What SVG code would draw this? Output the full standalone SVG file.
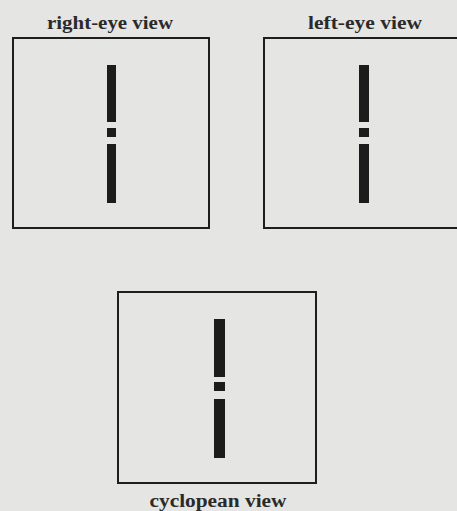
<svg xmlns="http://www.w3.org/2000/svg" width="457" height="511" viewBox="0 0 457 511">
<style>
.frame{fill:none;stroke:#1e1e1e;stroke-width:2}
.bar{fill:#1c1c1c}
.lbl{font-family:"Liberation Serif","DejaVu Serif",serif;font-size:18px;font-weight:bold;fill:#2a2a2a;text-anchor:middle}
</style>
<rect x="0" y="0" width="457" height="511" fill="#e5e5e3"/>
<g id="right-eye">
<text class="lbl" x="110" y="29" textLength="126" lengthAdjust="spacingAndGlyphs">right-eye view</text>
<rect class="frame" x="13" y="38" width="196" height="190"/>
<rect class="bar" x="107" y="65" width="9" height="57"/>
<rect class="bar" x="107" y="128" width="9" height="9"/>
<rect class="bar" x="107" y="144" width="9" height="59"/>
</g>
<g id="left-eye">
<text class="lbl" x="365" y="29" textLength="114" lengthAdjust="spacingAndGlyphs">left-eye view</text>
<path class="frame" d="M460,38 H264 V228 H460"/>
<rect class="bar" x="359" y="65" width="10" height="57"/>
<rect class="bar" x="359" y="128" width="10" height="9"/>
<rect class="bar" x="359" y="144" width="10" height="59"/>
</g>
<g id="cyclopean">
<rect class="frame" x="118" y="292" width="198" height="191"/>
<rect class="bar" x="214" y="319" width="11" height="58"/>
<rect class="bar" x="214" y="382" width="11" height="9"/>
<rect class="bar" x="214" y="399" width="11" height="59"/>
<text class="lbl" x="218" y="507" textLength="137" lengthAdjust="spacingAndGlyphs">cyclopean view</text>
</g>
<g id="connectors"/>
</svg>
